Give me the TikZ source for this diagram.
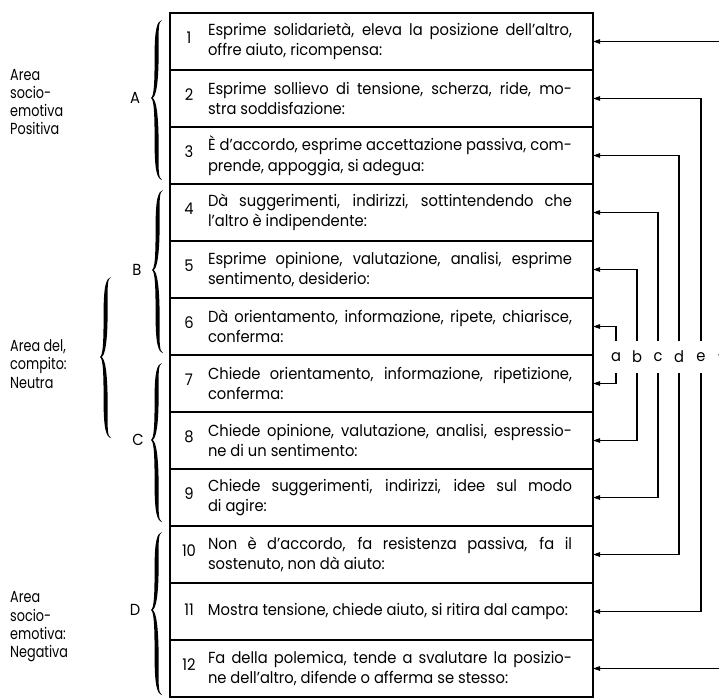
\documentclass[tikz,border=0pt]{standalone}
\usepackage{fontspec}
\setmainfont{Poppins}[FakeStretch=0.92]
\newfontfamily\labelfont{Poppins}[FakeStretch=0.8]
\usetikzlibrary{arrows.meta}
\newcommand\rowfont{\fontsize{16pt}{20.5pt}\selectfont}
\newcommand\cbrace[4]{%
  \pgfmathsetmacro\cbrX{#1}\pgfmathsetmacro\cbrT{#2}\pgfmathsetmacro\cbrM{#3}\pgfmathsetmacro\cbrB{#4}%
  \pgfmathsetmacro\cbrA{\cbrM-\cbrT}\pgfmathsetmacro\cbrb{\cbrB-\cbrM}%
  \fill (\cbrX+11,\cbrT) .. controls (\cbrX+6,\cbrT+1) and (\cbrX+3.6,\cbrT+0.12*\cbrA) .. (\cbrX+3.6,\cbrT+0.45*\cbrA)
    .. controls (\cbrX+3.6,\cbrT+0.8*\cbrA) and (\cbrX+3,\cbrM-1.5) .. (\cbrX,\cbrM)
    .. controls (\cbrX+3,\cbrM+1.5) and (\cbrX+3.6,\cbrM+0.2*\cbrb) .. (\cbrX+3.6,\cbrM+0.55*\cbrb)
    .. controls (\cbrX+3.6,\cbrB-0.12*\cbrb) and (\cbrX+6,\cbrB-1) .. (\cbrX+11,\cbrB)
    .. controls (\cbrX+7,\cbrB-2) and (\cbrX+7.6,\cbrB-0.12*\cbrb) .. (\cbrX+7.6,\cbrM+0.55*\cbrb)
    .. controls (\cbrX+7.6,\cbrM+0.2*\cbrb) and (\cbrX+5,\cbrM+1) .. (\cbrX+1.5,\cbrM)
    .. controls (\cbrX+5,\cbrM-1) and (\cbrX+7.6,\cbrT+0.8*\cbrA) .. (\cbrX+7.6,\cbrT+0.45*\cbrA)
    .. controls (\cbrX+7.6,\cbrT+0.12*\cbrA) and (\cbrX+7,\cbrT+2) .. (\cbrX+11,\cbrT) -- cycle;}
\newcommand\rowtwo[3]{\makebox[423pt][l]{\makebox[38pt]{#1}\raisebox{-2pt}{\parbox[c]{364pt}{\makebox[364pt][s]{#2}\\\makebox[364pt][l]{#3}}}}}
\newcommand\rowone[2]{\makebox[423pt][l]{\makebox[38pt]{#1}\makebox[364pt][l]{#2}}}
\tikzset{
  rowbox/.style={draw, line width=1.2pt, minimum width=423pt, minimum height=57pt,
    inner sep=0pt, outer sep=0pt, anchor=north west, font=\rowfont},
  conn/.style={line width=1.1pt, -{Triangle[length=7pt,width=4.5pt]}},
  collabel/.style={inner sep=0pt, minimum height=32pt, font=\rowfont},
  letter/.style={inner sep=0pt, font=\rowfont},
  grouplabel/.style={anchor=west, align=left, inner sep=0pt, font=\labelfont\fontsize{16pt}{18.3pt}\selectfont}
}
\begin{document}
\begin{tikzpicture}[x=1pt,y=-1pt]
\useasboundingbox (0,0) rectangle (719,697);
% rows
\node[rowbox] (r1) at (170,13) {\rowtwo{1}{Esprime solidarietà, eleva la posizione dell'altro,}{offre aiuto, ricompensa:}};
\node[rowbox] (r2) at (r1.south west) {\rowtwo{2}{Esprime sollievo di tensione, scherza, ride, mo-}{stra soddisfazione:}};
\node[rowbox] (r3) at (r2.south west) {\rowtwo{3}{È d'accordo, esprime accettazione passiva, com-}{prende, appoggia, si adegua:}};
\node[rowbox] (r4) at (r3.south west) {\rowtwo{4}{Dà suggerimenti, indirizzi, sottintendendo che}{l'altro è indipendente:}};
\node[rowbox] (r5) at (r4.south west) {\rowtwo{5}{Esprime opinione, valutazione, analisi, esprime}{sentimento, desiderio:}};
\node[rowbox] (r6) at (r5.south west) {\rowtwo{6}{Dà orientamento, informazione, ripete, chiarisce,}{conferma:}};
\node[rowbox] (r7) at (r6.south west) {\rowtwo{7}{Chiede orientamento, informazione, ripetizione,}{conferma:}};
\node[rowbox] (r8) at (r7.south west) {\rowtwo{8}{Chiede opinione, valutazione, analisi, espressio-}{ne di un sentimento:}};
\node[rowbox] (r9) at (r8.south west) {\rowtwo{9}{Chiede suggerimenti, indirizzi, idee sul modo}{di agire:}};
\node[rowbox] (r10) at (r9.south west) {\rowtwo{10}{Non è d'accordo, fa resistenza passiva, fa il}{sostenuto, non dà aiuto:}};
\node[rowbox] (r11) at (r10.south west) {\rowone{11}{Mostra tensione, chiede aiuto, si ritira dal campo:}};
\node[rowbox] (r12) at (r11.south west) {\rowtwo{12}{Fa della polemica, tende a svalutare la posizio-}{ne dell'altro, difende o afferma se stesso:}};
\draw[line width=2pt] (r1.north west) rectangle (r12.south east);
% column labels
\node[collabel] (la) at (616,357) {a};
\node[collabel] (lb) at (637,357) {b};
\node[collabel] (lc) at (658,357) {c};
\node[collabel] (ld) at (679,357) {d};
\node[collabel] (le) at (701,357) {e};
\node[collabel] (lf) at (720.5,357) {f};
\draw[conn] (la.north) |- (r6.east);
\draw[conn] (la.south) |- (r7.east);
\draw[conn] (lb.north) |- (r5.east);
\draw[conn] (lb.south) |- (r8.east);
\draw[conn] (lc.north) |- (r4.east);
\draw[conn] (lc.south) |- (r9.east);
\draw[conn] (ld.north) |- (r3.east);
\draw[conn] (ld.south) |- (r10.east);
\draw[conn] (le.north) |- (r2.east);
\draw[conn] (le.south) |- (r11.east);
\draw[conn] (lf.north) |- (r1.east);
\draw[conn] (lf.south) |- (r12.east);
% braces and letters
\cbrace{151}{20}{98}{180}
\cbrace{152}{190}{270}{353}
\cbrace{151}{363}{440}{522}
\cbrace{151}{532}{610}{695}
\cbrace{100}{277}{357}{438}
\node[letter] (lA) at (135,98) {A};
\node[letter] (lB) at (137,270) {B};
\node[letter] (lC) at (138,440) {C};
\node[letter] (lD) at (135,610) {D};
% group labels
\node[grouplabel] (gpos) at (10,102) {Area\\socio-\\emotiva\\Positiva};
\node[grouplabel] (gneu) at (10,364) {Area del,\\compito:\\Neutra};
\node[grouplabel] (gneg) at (10,627) {Area\\socio-\\emotiva:\\Negativa};
\end{tikzpicture}
\end{document}
